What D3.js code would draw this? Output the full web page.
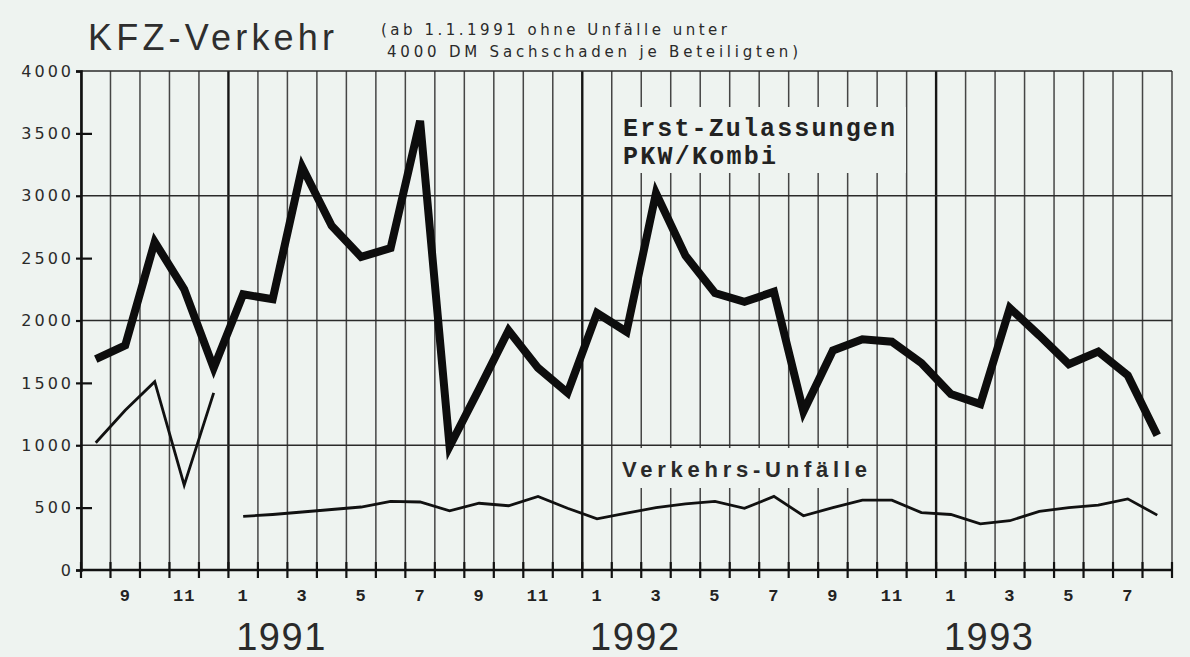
<!DOCTYPE html>
<html>
<head>
<meta charset="utf-8">
<script src="https://cdn.jsdelivr.net/npm/d3@7"></script>
<style>
  body { margin: 0; background: #eef3f0; }
</style>
</head>
<body>
<div id="chart"></div>
<script>
// Monate August 1990 bis August 1993
var perioden = [
  "08.1990", "09.1990", "10.1990", "11.1990", "12.1990",
  "01.1991", "02.1991", "03.1991", "04.1991", "05.1991", "06.1991",
  "07.1991", "08.1991", "09.1991", "10.1991", "11.1991", "12.1991",
  "01.1992", "02.1992", "03.1992", "04.1992", "05.1992", "06.1992",
  "07.1992", "08.1992", "09.1992", "10.1992", "11.1992", "12.1992",
  "01.1993", "02.1993", "03.1993", "04.1993", "05.1993", "06.1993",
  "07.1993", "08.1993"
];

// Erst-Zulassungen PKW/Kombi
var zulassungen = [
  1690, 1800, 2630, 2250, 1620,
  2210, 2170, 3230, 2760, 2510, 2580, 3600, 990, 1450, 1920, 1620, 1420,
  2060, 1910, 3020, 2520, 2220, 2150, 2230, 1270, 1760, 1850, 1830, 1660,
  1410, 1330, 2100, 1880, 1650, 1750, 1560, 1080
];

// Verkehrs-Unfaelle bis Dezember 1990
var unfaelleAlt = [1020, 1280, 1510, 680, 1420];

// Verkehrs-Unfaelle ab Januar 1991 (neue Zaehlweise)
var unfaelleNeu = [
  430, 445, 465, 485, 505, 550, 545, 475, 535, 515, 590, 495,
  410, 455, 500, 530, 550, 495, 590, 435, 500, 560, 560, 460,
  445, 370, 395, 470, 500, 520, 570, 440
];

var yTicks = [0, 500, 1000, 1500, 2000, 2500, 3000, 3500, 4000];
var yGrid = [1000, 2000, 3000, 4000];
var jahre = ["1991", "1992", "1993"];

var svgWidth = 1190;
var svgHeight = 657;

var svg = d3.select("#chart")
  .append("svg")
  .attr("width", svgWidth)
  .attr("height", svgHeight);

svg.append("rect")
  .attr("width", svgWidth)
  .attr("height", svgHeight)
  .attr("fill", "#eef3f0");

var x = d3.scaleBand()
  .domain(perioden)
  .range([81, 1172])
  .padding(0);

var y = d3.scaleLinear()
  .domain([0, 4000])
  .range([570, 71]);

var bw = x.bandwidth();
var monat = p => +p.split(".")[0];
var cx = p => x(p) + bw / 2;

// month boundaries
var grenzen = perioden.map(p => x(p)).concat([x.range()[1]]);
var istJahr = i => i > 0 && i < perioden.length && monat(perioden[i]) === 1;

// vertical grid
svg.append("g")
  .selectAll("line")
  .data(grenzen)
  .enter()
  .append("line")
  .attr("x1", d => d)
  .attr("x2", d => d)
  .attr("y1", y(4000))
  .attr("y2", y(0))
  .attr("stroke", (d, i) => istJahr(i) ? "#151515" : "#454545")
  .attr("stroke-width", (d, i) => istJahr(i) ? 2.4 : 1.5);

// horizontal grid
svg.append("g")
  .selectAll("line")
  .data(yGrid)
  .enter()
  .append("line")
  .attr("x1", x.range()[0])
  .attr("x2", x.range()[1])
  .attr("y1", d => y(d))
  .attr("y2", d => y(d))
  .attr("stroke", "#2a2a2a")
  .attr("stroke-width", 1.6);

// label boxes (grid is broken behind the labels)
svg.append("rect")
  .attr("x", 616).attr("y", 107)
  .attr("width", 290).attr("height", 66)
  .attr("fill", "#eef3f0");

svg.append("rect")
  .attr("x", 615).attr("y", 448)
  .attr("width", 258).attr("height", 40)
  .attr("fill", "#eef3f0");

// y axis
var leftAxis = d3.axisLeft(y)
  .tickValues(yTicks)
  .tickSize(5)
  .tickPadding(2)
  .tickFormat(d3.format("d"));

svg.append("g")
  .attr("transform", `translate(${x.range()[0]},0)`)
  .call(leftAxis)
  .call(g => g.select(".domain").attr("stroke", "#111").attr("stroke-width", 2.6))
  .call(g => g.selectAll(".tick line")
    .attr("x1", d => (d % 1000 === 0) ? 0 : 11)
    .attr("x2", -5)
    .attr("stroke", "#111")
    .attr("stroke-width", 2.2))
  .call(g => g.selectAll(".tick text")
    .attr("font-family", "'DejaVu Sans', sans-serif")
    .attr("font-size", 16)
    .attr("letter-spacing", 3)
    .attr("fill", "#2a2a2a"));

// x axis
svg.append("line")
  .attr("x1", x.range()[0])
  .attr("x2", x.range()[1])
  .attr("y1", y(0))
  .attr("y2", y(0))
  .attr("stroke", "#111")
  .attr("stroke-width", 2.4);

svg.append("g")
  .selectAll("line")
  .data(grenzen)
  .enter()
  .append("line")
  .attr("x1", d => d)
  .attr("x2", d => d)
  .attr("y1", y(0) - 8)
  .attr("y2", y(0) + 8)
  .attr("stroke", "#111")
  .attr("stroke-width", 2.2);

var bottomAxis = d3.axisBottom(x)
  .tickValues(perioden.filter(p => monat(p) % 2 === 1))
  .tickSize(0)
  .tickPadding(19)
  .tickFormat(p => String(monat(p)));

svg.append("g")
  .attr("transform", `translate(0,${y(0)})`)
  .call(bottomAxis)
  .call(g => g.select(".domain").remove())
  .call(g => g.selectAll(".tick text")
    .attr("font-family", "'Liberation Mono', monospace")
    .attr("font-weight", "bold")
    .attr("font-size", 17)
    .attr("letter-spacing", 1)
    .attr("fill", "#222"));

// year labels
svg.append("g")
  .selectAll("text")
  .data(jahre)
  .enter()
  .append("text")
  .attr("x", d => x("01." + d) + bw * 1.8)
  .attr("y", 650)
  .attr("text-anchor", "middle")
  .attr("font-family", "'Liberation Sans', Arial, sans-serif")
  .attr("font-size", 38)
  .attr("letter-spacing", 1.5)
  .attr("fill", "#2a2a2a")
  .text(d => d);

// lines
var line = d3.line()
  .x(d => cx(d.p))
  .y(d => y(d.v));

svg.append("path")
  .datum(perioden.map((p, i) => ({ p: p, v: zulassungen[i] })))
  .attr("d", line)
  .attr("fill", "none")
  .attr("stroke", "#0d0d0d")
  .attr("stroke-width", 8)
  .attr("stroke-linejoin", "miter");

svg.append("path")
  .datum(unfaelleAlt.map((v, i) => ({ p: perioden[i], v: v })))
  .attr("d", line)
  .attr("fill", "none")
  .attr("stroke", "#111")
  .attr("stroke-width", 2.8);

svg.append("path")
  .datum(unfaelleNeu.map((v, i) => ({ p: perioden[i + unfaelleAlt.length], v: v })))
  .attr("d", line)
  .attr("fill", "none")
  .attr("stroke", "#111")
  .attr("stroke-width", 2.8);

// title
svg.append("text")
  .attr("x", 88)
  .attr("y", 50)
  .attr("font-family", "'Liberation Sans', Arial, sans-serif")
  .attr("font-size", 36)
  .attr("textLength", 246)
  .attr("lengthAdjust", "spacing")
  .attr("fill", "#2e2e2e")
  .text("KFZ-Verkehr");

svg.append("text")
  .attr("x", 381)
  .attr("y", 35)
  .attr("font-family", "'DejaVu Sans', sans-serif")
  .attr("font-size", 15)
  .attr("textLength", 346)
  .attr("lengthAdjust", "spacing")
  .attr("fill", "#2a2a2a")
  .text("(ab 1.1.1991 ohne Unfälle unter");

svg.append("text")
  .attr("x", 387)
  .attr("y", 57)
  .attr("font-family", "'DejaVu Sans', sans-serif")
  .attr("font-size", 15)
  .attr("textLength", 411)
  .attr("lengthAdjust", "spacing")
  .attr("fill", "#2a2a2a")
  .text("4000 DM Sachschaden je Beteiligten)");

// series labels
svg.append("text")
  .attr("x", 623)
  .attr("y", 136)
  .attr("font-family", "'Liberation Mono', 'Courier New', monospace")
  .attr("font-weight", "bold")
  .attr("font-size", 25)
  .attr("textLength", 272)
  .attr("lengthAdjust", "spacing")
  .attr("fill", "#222")
  .text("Erst-Zulassungen");

svg.append("text")
  .attr("x", 623)
  .attr("y", 164)
  .attr("font-family", "'Liberation Mono', 'Courier New', monospace")
  .attr("font-weight", "bold")
  .attr("font-size", 25)
  .attr("textLength", 153)
  .attr("lengthAdjust", "spacing")
  .attr("fill", "#222")
  .text("PKW/Kombi");

svg.append("text")
  .attr("x", 622)
  .attr("y", 477)
  .attr("font-family", "'Liberation Sans', Arial, sans-serif")
  .attr("font-weight", "bold")
  .attr("font-size", 22)
  .attr("textLength", 245)
  .attr("lengthAdjust", "spacing")
  .attr("fill", "#2a2a2a")
  .text("Verkehrs-Unfälle");
</script>
</body>
</html>
